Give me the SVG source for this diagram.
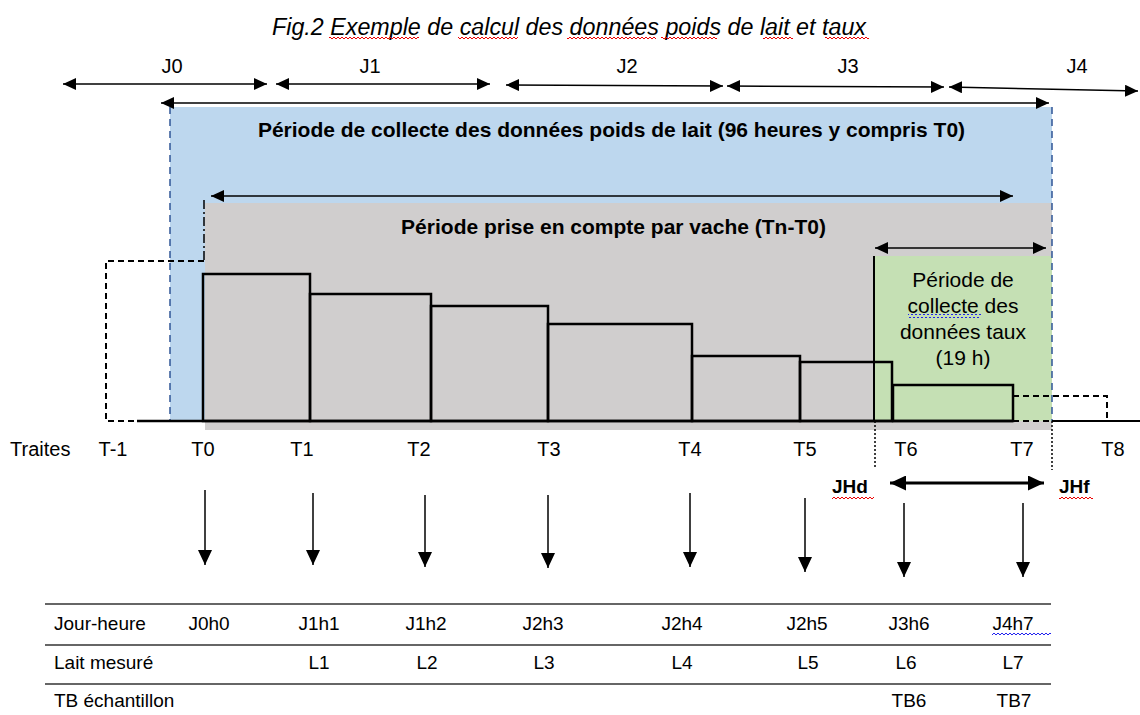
<svg xmlns="http://www.w3.org/2000/svg" width="1140" height="715" viewBox="0 0 1140 715">
<defs>
<style>
text{font-family:"Liberation Sans",Arial,sans-serif;fill:#000}
.t{font-size:20px;text-anchor:middle}
.b{font-weight:bold;font-size:21px;text-anchor:middle}
.g{font-size:21px;text-anchor:middle}
.tb{font-size:19px;text-anchor:middle}
.tbl{font-size:19px}
.ln{stroke:#000;stroke-width:1.5;fill:none}
.bar{stroke:#000;stroke-width:2.5;fill:none}
.dash{stroke:#000;stroke-width:2;fill:none;stroke-dasharray:6 4}
.dot{stroke:#000;stroke-width:1.5;fill:none;stroke-dasharray:2 2}
.bd{stroke:#2F5597;stroke-width:1.5;fill:none;stroke-dasharray:7 5}
.rule{stroke:#333;stroke-width:1.6}
</style>
<marker id="ah" markerUnits="userSpaceOnUse" markerWidth="13" markerHeight="12" refX="13" refY="6" orient="auto-start-reverse"><path d="M0,0 L13,6 L0,12 z" fill="#000"/></marker>
<marker id="ahd" markerUnits="userSpaceOnUse" markerWidth="15" markerHeight="14" refX="15" refY="7" orient="auto"><path d="M0,0 L15,7 L0,14 z" fill="#000"/></marker>
<marker id="ahb" markerUnits="userSpaceOnUse" markerWidth="16" markerHeight="15" refX="16" refY="7.5" orient="auto-start-reverse"><path d="M0,0 L16,7.5 L0,15 z" fill="#000"/></marker>
<pattern id="wr" width="4" height="4" patternUnits="userSpaceOnUse"><path d="M0,3 L2,1 L4,3" stroke="#E00" stroke-width="1" fill="none"/></pattern>
<pattern id="wb" width="4" height="4" patternUnits="userSpaceOnUse"><path d="M0,3 L2,1 L4,3" stroke="#22E" stroke-width="1" fill="none"/></pattern>
</defs>

<g id="title">
<text x="272" y="35" font-size="23" font-style="italic" textLength="594" lengthAdjust="spacingAndGlyphs">Fig.2 Exemple de calcul des données poids de lait et taux</text>
<rect x="329" y="36" width="90" height="4" fill="url(#wr)"/>
<rect x="458" y="36" width="60" height="4" fill="url(#wr)"/>
<rect x="567" y="36" width="89" height="4" fill="url(#wr)"/>
<rect x="661" y="36" width="56" height="4" fill="url(#wr)"/>
<rect x="763" y="36" width="30" height="4" fill="url(#wr)"/>
<rect x="825" y="36" width="44" height="4" fill="url(#wr)"/>
</g>

<g id="days">
<text class="t" x="172" y="73">J0</text>
<text class="t" x="370" y="73">J1</text>
<text class="t" x="627" y="73">J2</text>
<text class="t" x="848" y="73">J3</text>
<text class="t" x="1077" y="73">J4</text>
</g>

<g id="period-lait">
<rect x="170" y="107" width="882" height="315" fill="#BDD7EE"/>
<text class="b" x="611.5" y="137">Période de collecte des données poids de lait (96 heures y compris T0)</text>
</g>

<g id="period-vache">
<rect x="205" y="203" width="847" height="227" fill="#D0CECE"/>
<text class="b" x="613.5" y="234">Période prise en compte par vache (Tn-T0)</text>
</g>

<g id="period-taux">
<rect x="874" y="256" width="178" height="165" fill="#C5E0B4"/>
<text class="g" x="963" y="287">Période de</text>
<text class="g" x="963" y="313">collecte des</text>
<rect x="908" y="314" width="73" height="4" fill="url(#wb)"/>
<text class="g" x="963" y="339">données taux</text>
<text class="g" x="963" y="365">(19 h)</text>
</g>

<g id="bars">
<path class="dash" d="M204,261 H106 V421 H137"/>
<path d="M204,200 V262" stroke="#000" stroke-width="1.5" stroke-dasharray="9 3 2 3" fill="none"/>
<path class="bd" d="M170,107 V421"/>
<path class="bd" d="M1052,107 V421"/>
<rect class="bar" x="203" y="274" width="107" height="147"/>
<rect class="bar" x="310" y="294" width="121" height="127"/>
<rect class="bar" x="431" y="306" width="117" height="115"/>
<rect class="bar" x="548" y="324" width="144" height="97"/>
<rect class="bar" x="692" y="356" width="108" height="65"/>
<rect class="bar" x="800" y="362" width="92" height="59"/>
<rect class="bar" x="893" y="385" width="120" height="36"/>
<path class="dash" d="M1013,396 H1107 V421 M1013,421 H1052"/>
<path d="M874,256 V421" stroke="#000" stroke-width="2"/>
<path d="M137,421 H1013" stroke="#000" stroke-width="2.5"/>
<path d="M1052,421 H1140" stroke="#000" stroke-width="2"/>
<path class="dot" d="M875,421 V467"/>
<path class="dot" d="M1052,421 V470"/>
</g>

<g id="traites">
<text x="10" y="456" font-size="20">Traites</text>
<text class="t" x="113" y="456">T-1</text>
<text class="t" x="203" y="456">T0</text>
<text class="t" x="302" y="456">T1</text>
<text class="t" x="419" y="456">T2</text>
<text class="t" x="549" y="456">T3</text>
<text class="t" x="690" y="456">T4</text>
<text class="t" x="805" y="456">T5</text>
<text class="t" x="906" y="456">T6</text>
<text class="t" x="1022" y="456">T7</text>
<text class="t" x="1113" y="456">T8</text>
</g>

<g id="jh">
<text x="832" y="493" font-size="19" font-weight="bold">JHd</text>
<rect x="832" y="495" width="42" height="4" fill="url(#wr)"/>
<text x="1059" y="493" font-size="19" font-weight="bold">JHf</text>
<rect x="1059" y="495" width="34" height="4" fill="url(#wr)"/>
</g>

<g id="connectors">
<line class="ln" x1="63" y1="84" x2="267" y2="84" marker-start="url(#ah)" marker-end="url(#ah)"/>
<line class="ln" x1="276" y1="84" x2="490" y2="84" marker-start="url(#ah)" marker-end="url(#ah)"/>
<line class="ln" x1="506" y1="85" x2="723" y2="86" marker-start="url(#ah)" marker-end="url(#ah)"/>
<line class="ln" x1="727" y1="86" x2="944" y2="87" marker-start="url(#ah)" marker-end="url(#ah)"/>
<line class="ln" x1="949" y1="87" x2="1138" y2="91" marker-start="url(#ah)" marker-end="url(#ah)"/>
<line class="ln" x1="161" y1="103" x2="1049" y2="103" marker-start="url(#ah)" marker-end="url(#ah)"/>
<line class="ln" x1="211" y1="196" x2="1013" y2="196" marker-start="url(#ah)" marker-end="url(#ah)"/>
<line class="ln" x1="875" y1="248" x2="1046" y2="248" marker-start="url(#ah)" marker-end="url(#ah)"/>
<line x1="890" y1="483" x2="1044" y2="483" stroke="#000" stroke-width="3" marker-start="url(#ahb)" marker-end="url(#ahb)"/>
<line class="ln" x1="205" y1="490" x2="205" y2="565" marker-end="url(#ahd)"/>
<line class="ln" x1="313" y1="493" x2="313" y2="565" marker-end="url(#ahd)"/>
<line class="ln" x1="425" y1="495" x2="425" y2="567" marker-end="url(#ahd)"/>
<line class="ln" x1="548" y1="495" x2="548" y2="568" marker-end="url(#ahd)"/>
<line class="ln" x1="690" y1="493" x2="690" y2="567" marker-end="url(#ahd)"/>
<line class="ln" x1="805" y1="498" x2="805" y2="572" marker-end="url(#ahd)"/>
<line class="ln" x1="904" y1="503" x2="904" y2="577" marker-end="url(#ahd)"/>
<line class="ln" x1="1023" y1="503" x2="1023" y2="577" marker-end="url(#ahd)"/>
</g>

<g id="table">
<line class="rule" x1="45" y1="604" x2="1051" y2="604"/>
<line class="rule" x1="45" y1="645" x2="1051" y2="645"/>
<line class="rule" x1="45" y1="684" x2="1051" y2="684"/>
<g id="row-jour">
<text class="tbl" x="54" y="630">Jour-heure</text>
<text class="tb" x="209" y="630">J0h0</text>
<text class="tb" x="319" y="630">J1h1</text>
<text class="tb" x="426" y="630">J1h2</text>
<text class="tb" x="543" y="630">J2h3</text>
<text class="tb" x="682" y="630">J2h4</text>
<text class="tb" x="807" y="630">J2h5</text>
<text class="tb" x="909" y="630">J3h6</text>
<text class="tb" x="1013" y="630">J4h7</text>
<rect x="992" y="631" width="59" height="4" fill="url(#wb)"/>
</g>
<g id="row-lait">
<text class="tbl" x="54" y="669">Lait mesuré</text>
<text class="tb" x="319" y="669">L1</text>
<text class="tb" x="427" y="669">L2</text>
<text class="tb" x="544" y="669">L3</text>
<text class="tb" x="682" y="669">L4</text>
<text class="tb" x="808" y="669">L5</text>
<text class="tb" x="906" y="669">L6</text>
<text class="tb" x="1013" y="669">L7</text>
</g>
<g id="row-tb">
<text class="tbl" x="54" y="707">TB échantillon</text>
<text class="tb" x="909" y="707">TB6</text>
<text class="tb" x="1014" y="707">TB7</text>
</g>
</g>
</svg>
